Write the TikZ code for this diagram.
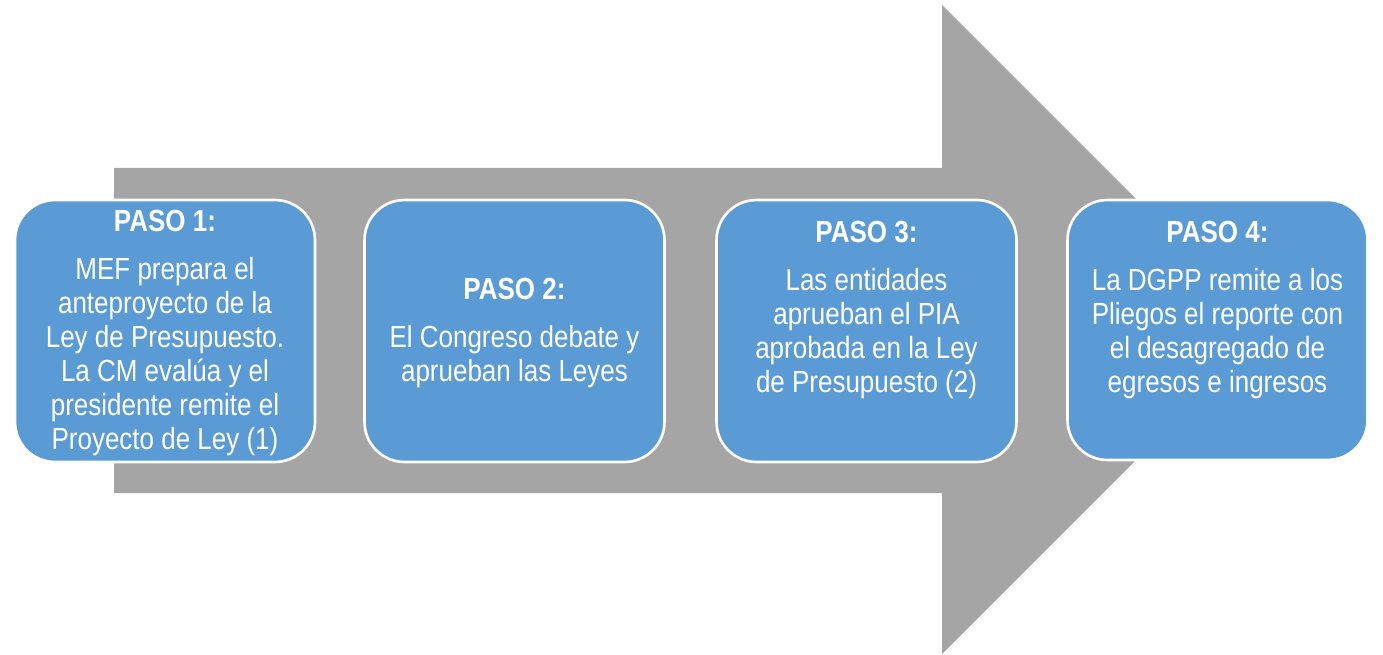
\documentclass[tikz,border=0pt]{standalone}
\usepackage{fontspec}
\setmainfont{Liberation Sans}[FakeStretch=0.85]
\definecolor{boxblue}{HTML}{5B9BD5}
\definecolor{arrowgray}{HTML}{A5A5A5}
\begin{document}
\begin{tikzpicture}[x=0.02cm,y=-0.02cm,
  stepbox/.style={draw=white, line width=1.5pt, fill=boxblue, rounded corners=0.8cm,
    minimum width=6cm, minimum height=5.24cm, inner sep=0pt},
  steptext/.style={text=white, align=center, inner sep=0pt, anchor=north,
    font=\fontsize{17.4}{19.35}\selectfont},
]
\useasboundingbox (0,0) rectangle (1383,655);
% big arrow
\fill[arrowgray] (114,168) -- (942,168) -- (942,5) -- (1266.5,329.5) -- (942,654)
  -- (942,493) -- (114,493) -- cycle;
% boxes
\node[stepbox] (b1) at (165,331) {};
\node[stepbox] (b2) at (514.5,331) {};
\node[stepbox] (b3) at (866.5,331) {};
\node[stepbox, minimum height=5.2cm] (b4) at (1217.5,330) {};
% texts
\node[steptext] (t1) at (165,210) {\textbf{PASO 1:}\\[0.27cm]MEF prepara el\\anteproyecto de la\\Ley de Presupuesto.\\La CM evalúa y el\\presidente remite el\\Proyecto de Ley (1)};
\node[steptext] (t2) at (514.5,278) {\textbf{PASO 2:}\\[0.27cm]El Congreso debate y\\aprueban las Leyes};
\node[steptext] (t3) at (866.5,221) {\textbf{PASO 3:}\\[0.27cm]Las entidades\\aprueban el PIA\\aprobada en la Ley\\de Presupuesto (2)};
\node[steptext] (t4) at (1217.5,221) {\textbf{PASO 4:}\\[0.27cm]La DGPP remite a los\\Pliegos el reporte con\\el desagregado de\\egresos e ingresos};
\end{tikzpicture}
\end{document}
